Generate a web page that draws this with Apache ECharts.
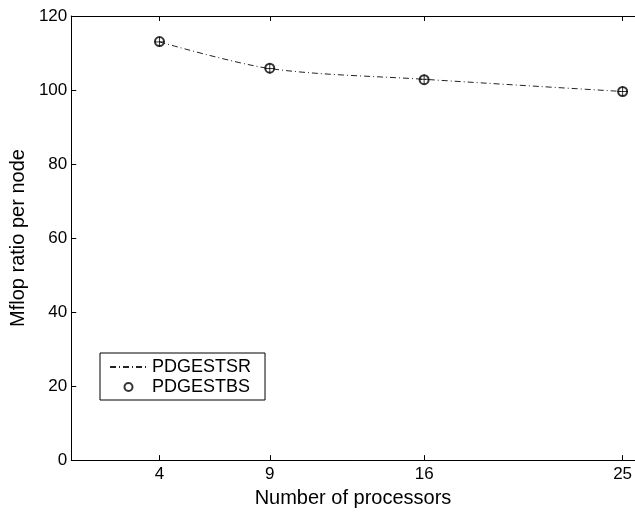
<!DOCTYPE html>
<html>
<head>
<meta charset="utf-8">
<script src="https://cdn.jsdelivr.net/npm/echarts@6/dist/echarts.min.js"></script>
<style>
  html, body { margin: 0; padding: 0; background: #fff; }
  #chart { width: 635px; height: 513px; }
</style>
</head>
<body>
<div id="chart"></div>
<script>
// procesadores y valores
const processors = [4, 9, 16, 25]
const valuesSR = [113.0, 105.8, 102.9, 99.6]
const valuesBS = [113.1, 105.9, 102.8, 99.6]
const yTicks = [0, 20, 40, 60, 80, 100, 120]

const chart = echarts.init(document.getElementById('chart'))

const font = 'Liberation Sans, Arial, Helvetica, sans-serif'
const pairs = (ys) => processors.map((p, i) => [p, ys[i]])

let option = {
  animation: false,
  grid: { left: 68, right: 0, top: 16, bottom: 44 },
  legend: {
    data: [
      { name: 'PDGESTSR', itemStyle: { opacity: 0 } },
      { name: 'PDGESTBS' }
    ],
    orient: 'vertical',
    left: 100,
    top: 353,
    padding: [5, 14, 4, 9],
    itemGap: 2,
    itemWidth: 37,
    itemHeight: 8,
    borderColor: '#000',
    borderWidth: 1,
    textStyle: { fontFamily: font, fontSize: 18, color: '#000' }
  },
  xAxis: [
    {
      type: 'value',
      min: 0,
      max: 25.55,
      name: 'Number of processors',
      nameLocation: 'middle',
      nameGap: 24,
      nameTextStyle: { fontFamily: font, fontSize: 20, color: '#000' },
      axisLine: { lineStyle: { color: '#000', width: 1 } },
      axisTick: { inside: true, length: 5, customValues: processors, lineStyle: { color: '#000' } },
      axisLabel: { customValues: processors, fontFamily: font, fontSize: 17, color: '#000', margin: 6 },
      splitLine: { show: false }
    },
    {
      type: 'value',
      position: 'top',
      min: 0,
      max: 25.55,
      axisLine: { show: true, lineStyle: { color: '#000', width: 1 } },
      axisTick: { inside: true, length: 5, customValues: processors, lineStyle: { color: '#000' } },
      axisLabel: { show: false },
      splitLine: { show: false }
    }
  ],
  yAxis: {
    type: 'value',
    min: 0,
    max: 120,
    interval: 20,
    name: 'Mflop ratio per node',
    nameLocation: 'middle',
    nameGap: 40,
    nameTextStyle: { fontFamily: font, fontSize: 20, color: '#000' },
    axisLine: { show: true, lineStyle: { color: '#000', width: 1 } },
    axisTick: { inside: true, length: 5, lineStyle: { color: '#000' } },
    axisLabel: {
      fontFamily: font, fontSize: 17, color: '#000', margin: 4,
      formatter: (v) => (yTicks.includes(v) ? String(v) : '')
    },
    splitLine: { show: false }
  },
  series: [
    {
      name: 'PDGESTSR',
      type: 'line',
      data: pairs(valuesSR),
      smooth: 0.3,
      showSymbol: false,
      symbol: 'none',
      lineStyle: { color: '#222', width: 1, type: [6, 3, 1, 3] },
      itemStyle: { color: '#222' }
    },
    {
      name: 'PDGESTBS',
      type: 'scatter',
      data: pairs(valuesBS),
      symbol: 'emptyCircle',
      symbolSize: 9,
      itemStyle: { color: '#000', borderColor: '#000', borderWidth: 0.8 }
    },
    {
      name: 'SR marker',
      type: 'scatter',
      data: pairs(valuesSR),
      symbol: 'path://M5,0 L5,10 M0,5 L10,5',
      symbolSize: 10,
      itemStyle: { color: 'none', borderColor: '#000', borderWidth: 1 },
      z: 3
    }
  ]
}

chart.setOption(option)
</script>
</body>
</html>
